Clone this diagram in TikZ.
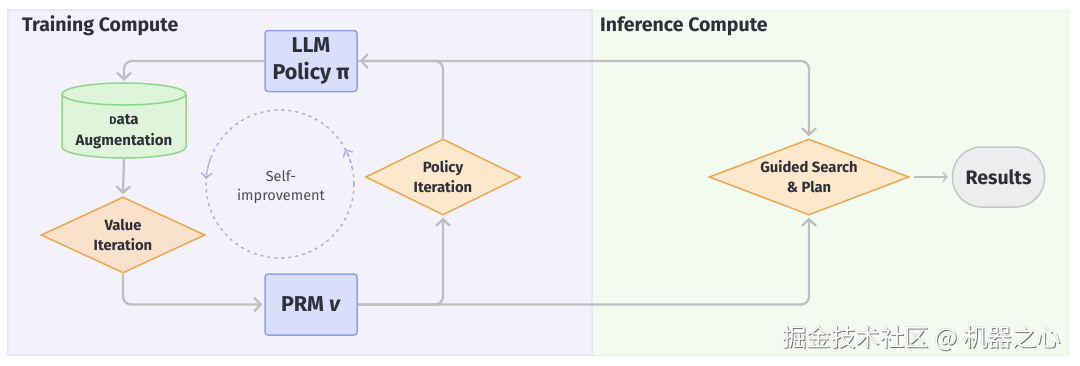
\documentclass[tikz,border=0pt]{standalone}
\usepackage{fontspec}
\setmainfont{Fira Sans}
\newfontfamily\cjk{Noto Sans CJK SC}
\usetikzlibrary{shapes.geometric,arrows.meta}
\definecolor{panelA}{HTML}{F3F2FC}
\definecolor{panelAd}{HTML}{E7E5FA}
\definecolor{panelB}{HTML}{F3FBF1}
\definecolor{panelBd}{HTML}{E8F5E4}
\definecolor{boxf}{HTML}{D9DFFB}
\definecolor{boxd}{HTML}{8EA1F1}
\definecolor{cylf}{HTML}{DEF5D9}
\definecolor{cyld}{HTML}{8CD888}
\definecolor{diafA}{HTML}{F9E1CC}
\definecolor{diafB}{HTML}{FDE8CB}
\definecolor{diad}{HTML}{F0A54E}
\definecolor{resf}{HTML}{EDEDF0}
\definecolor{resd}{HTML}{C6C6CB}
\definecolor{edgec}{HTML}{BEBEC3}
\definecolor{circc}{HTML}{B2AAF0}
\definecolor{txt}{HTML}{2F2F3A}
\tikzset{
  title/.style={anchor=base west, font=\fontsize{19.5}{22}\selectfont\bfseries, text=txt, inner sep=0pt},
  boxnode/.style={draw=boxd, fill=boxf, line width=1.5pt, rounded corners=3pt, minimum width=92pt, minimum height=61pt, text=txt, align=center},
  dia/.style={diamond, draw=diad, line width=1.5pt, inner sep=0pt, text=txt, align=center, font=\fontsize{14.8}{20}\selectfont\bfseries},
  edge/.style={draw=edgec, line width=2.3pt, rounded corners=8pt, -{Straight Barb[length=6.5pt,width=14pt]}, shorten >=2pt},
  thinedge/.style={draw=edgec, line width=1.2pt, -{Straight Barb[length=4pt,width=9pt]}, shorten >=4pt, shorten <=4pt},
  selfc/.style={draw=circc, line width=1.5pt, dash pattern=on 3pt off 4pt},
  wmark/.style={anchor=west, inner sep=0pt, font=\cjk\fontsize{24.5}{26}\selectfont}
}
\begin{document}
\begin{tikzpicture}[x=1pt, y=-1pt]
\useasboundingbox (0,0) rectangle (1080,365);
\fill[white] (0,0) rectangle (1080,365);
% panels
\draw[fill=panelB, draw=panelBd, line width=1pt] (592,10) rectangle (1068,355);
\draw[fill=panelA, draw=panelAd, line width=2pt] (8,10) rectangle (592,355);
\node[title] (t1) at (22,31.5) {Training Compute};
\node[title] (t2) at (600,31.5) {Inference Compute};
% cylinder
\draw[fill=cylf, draw=cyld, line width=1.5pt] (62,94) -- (62,147) arc[start angle=180, end angle=360, x radius=62pt, y radius=11pt] -- (186,94);
\draw[fill=cylf, draw=cyld, line width=1.5pt] (124,94) ellipse[x radius=62pt, y radius=11pt];
\node[minimum width=124pt, minimum height=75pt, inner sep=0pt] (da) at (124,120.5) {};
\node[text=txt, align=center, font=\fontsize{15}{21}\selectfont\bfseries] (dal) at (124,132) {{\fontsize{11}{10}\selectfont D}ata\\Augmentation};
% boxes
\node[boxnode, font=\fontsize{21.5}{27}\selectfont\bfseries] (llm) at (311,61) {LLM\\Policy~π};
\node[boxnode, font=\fontsize{21.5}{27}\selectfont\bfseries] (prm) at (311,304.5) {PRM \textit{v}};
% diamonds
\node[dia, fill=diafA, minimum width=164pt, minimum height=76pt, aspect=2.16] (vi) at (123,235) {Value\\Iteration};
\node[dia, fill=diafB, minimum width=155pt, minimum height=76pt, aspect=2.04] (pi) at (443,177) {Policy\\Iteration};
\node[dia, fill=diafB, minimum width=200pt, minimum height=76pt, aspect=2.63] (gs) at (809,177) {Guided Search\\\&~Plan};
% results
\node[draw=resd, fill=resf, line width=1.5pt, rounded corners=29pt, minimum width=92pt, minimum height=60pt, text=txt, font=\fontsize{19.5}{20}\selectfont\bfseries] (res) at (998.5,177) {Results};
% self-improvement
\coordinate (sc) at (280,184);
\draw[selfc] (sc) circle[radius=74pt];
\draw[selfc, -{Straight Barb[length=5pt,width=11pt]}] ([shift={(160:74pt)}]sc) arc[start angle=160, end angle=176, radius=74pt];
\draw[selfc, -{Straight Barb[length=5pt,width=11pt]}] ([shift={(12:74pt)}]sc) arc[start angle=12, end angle=28, radius=74pt];
\node[text=txt!85, align=center, font=\fontsize{14.5}{19}\selectfont] (si) at (281,187) {Self-\\improvement};
% connectors
\draw[edge] (llm.west) -| (da.north);
\draw[edge] (da.south) -- (vi.north);
\draw[edge] (vi.south) |- (prm.west);
\draw[edge] (prm.east) -| (pi.south);
\draw[edge] (prm.east) -| (gs.south);
\draw[edge] (pi.north) |- (llm.east);
\draw[edge] (llm.east) -| (gs.north);
\draw[thinedge] (gs.east) -- (res.west);
% watermark
\node[wmark, text=black!55] (wm1) at (783,339) {掘金技术社区 @ 机器之心};
\node[wmark, text=black!35] (wm2) at (781.8,337.8) {掘金技术社区 @ 机器之心};
\node[wmark, text=white] (wm3) at (782,338) {掘金技术社区 @ 机器之心};
\end{tikzpicture}
\end{document}
